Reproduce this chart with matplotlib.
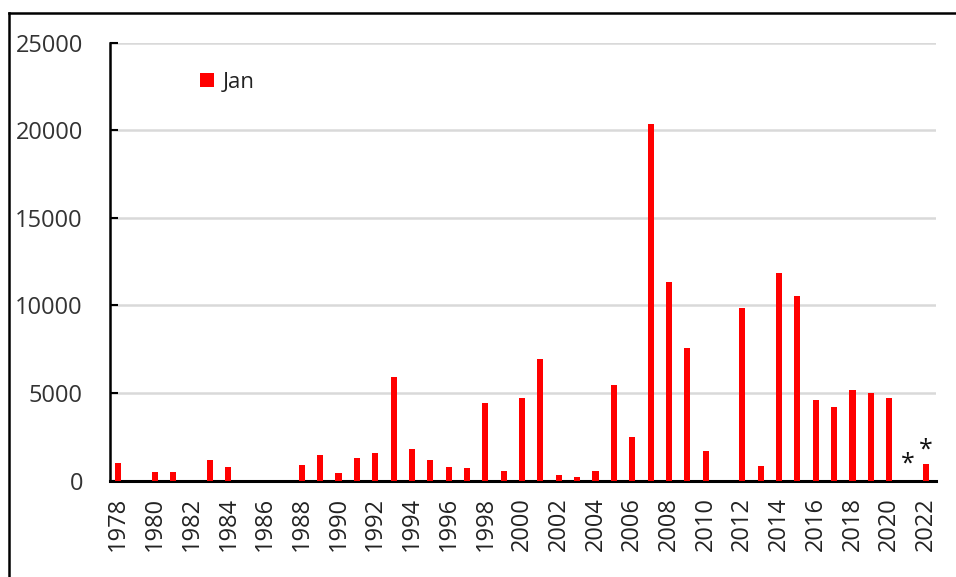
import matplotlib
matplotlib.use("Agg")
import matplotlib.pyplot as plt
from matplotlib.lines import Line2D

# số liệu tháng 1
years = list(range(1978, 2023))
jan = [1000, 0, 470, 470, 0, 1150, 790, 0, 0, 0,
       860, 1440, 410, 1280, 1570, 5890, 1800, 1150, 770, 700,
       4440, 560, 4730, 6920, 330, 180, 540, 5450, 2510, 20330,
       11310, 7590, 1660, 0, 9830, 850, 11830, 10510, 4580, 4210,
       5170, 5010, 4730, 0, 925]
star_years = [2021, 2022]
yticks = [0, 5000, 10000, 15000, 20000, 25000]
xticks = list(range(1978, 2023, 2))

plt.rcParams['font.family'] = ['Open Sans', 'DejaVu Sans']

fig = plt.figure(figsize=(9.56, 5.77), dpi=100)
ax = fig.add_axes([110 / 956, 1 - 480.5 / 577, 826 / 956, 438 / 577])

ax.bar(years, jan, width=0.33, color='#ff0000', label='Jan', zorder=3)

# dấu * cho các năm chưa đủ số liệu
for y in star_years:
    v = jan[years.index(y)]
    ax.annotate('*', (y, v), xytext=(0, 3 if v == 0 else 1), textcoords='offset points',
                ha='center', va='bottom', fontsize=18, color='#111111', zorder=4)

ax.set_xlim(1977.55, 2022.55)
ax.set_ylim(0, 25000)
ax.set_yticks(yticks)
ax.set_xticks(xticks)
ax.set_xticklabels([str(x) for x in xticks], rotation=90)
ax.tick_params(axis='x', length=0, pad=12, labelsize=17, labelcolor='#222222')
ax.tick_params(axis='y', direction='in', length=6, width=1.5, pad=19.5,
               labelsize=17, labelcolor='#333333')

ax.grid(axis='y', color='#d9d9d9', linewidth=1.8, zorder=0)
ax.set_axisbelow(True)
for s in ['top', 'right']:
    ax.spines[s].set_visible(False)
ax.spines['left'].set_linewidth(1.8)
ax.spines['bottom'].set_linewidth(2.2)

ax.legend(loc='upper left', bbox_to_anchor=(0.085, 0.978), frameon=False,
          fontsize=16, handlelength=0.6, handleheight=0.6, handletextpad=0.4,
          labelcolor='#222222')

# khung viền ngoài
fig.add_artist(Line2D([9 / 956, 1], [1 - 13 / 577] * 2, color='black', linewidth=1.8))
fig.add_artist(Line2D([9 / 956] * 2, [0, 1 - 13 / 577], color='black', linewidth=1.8))

fig.savefig('out.png', dpi=100)
